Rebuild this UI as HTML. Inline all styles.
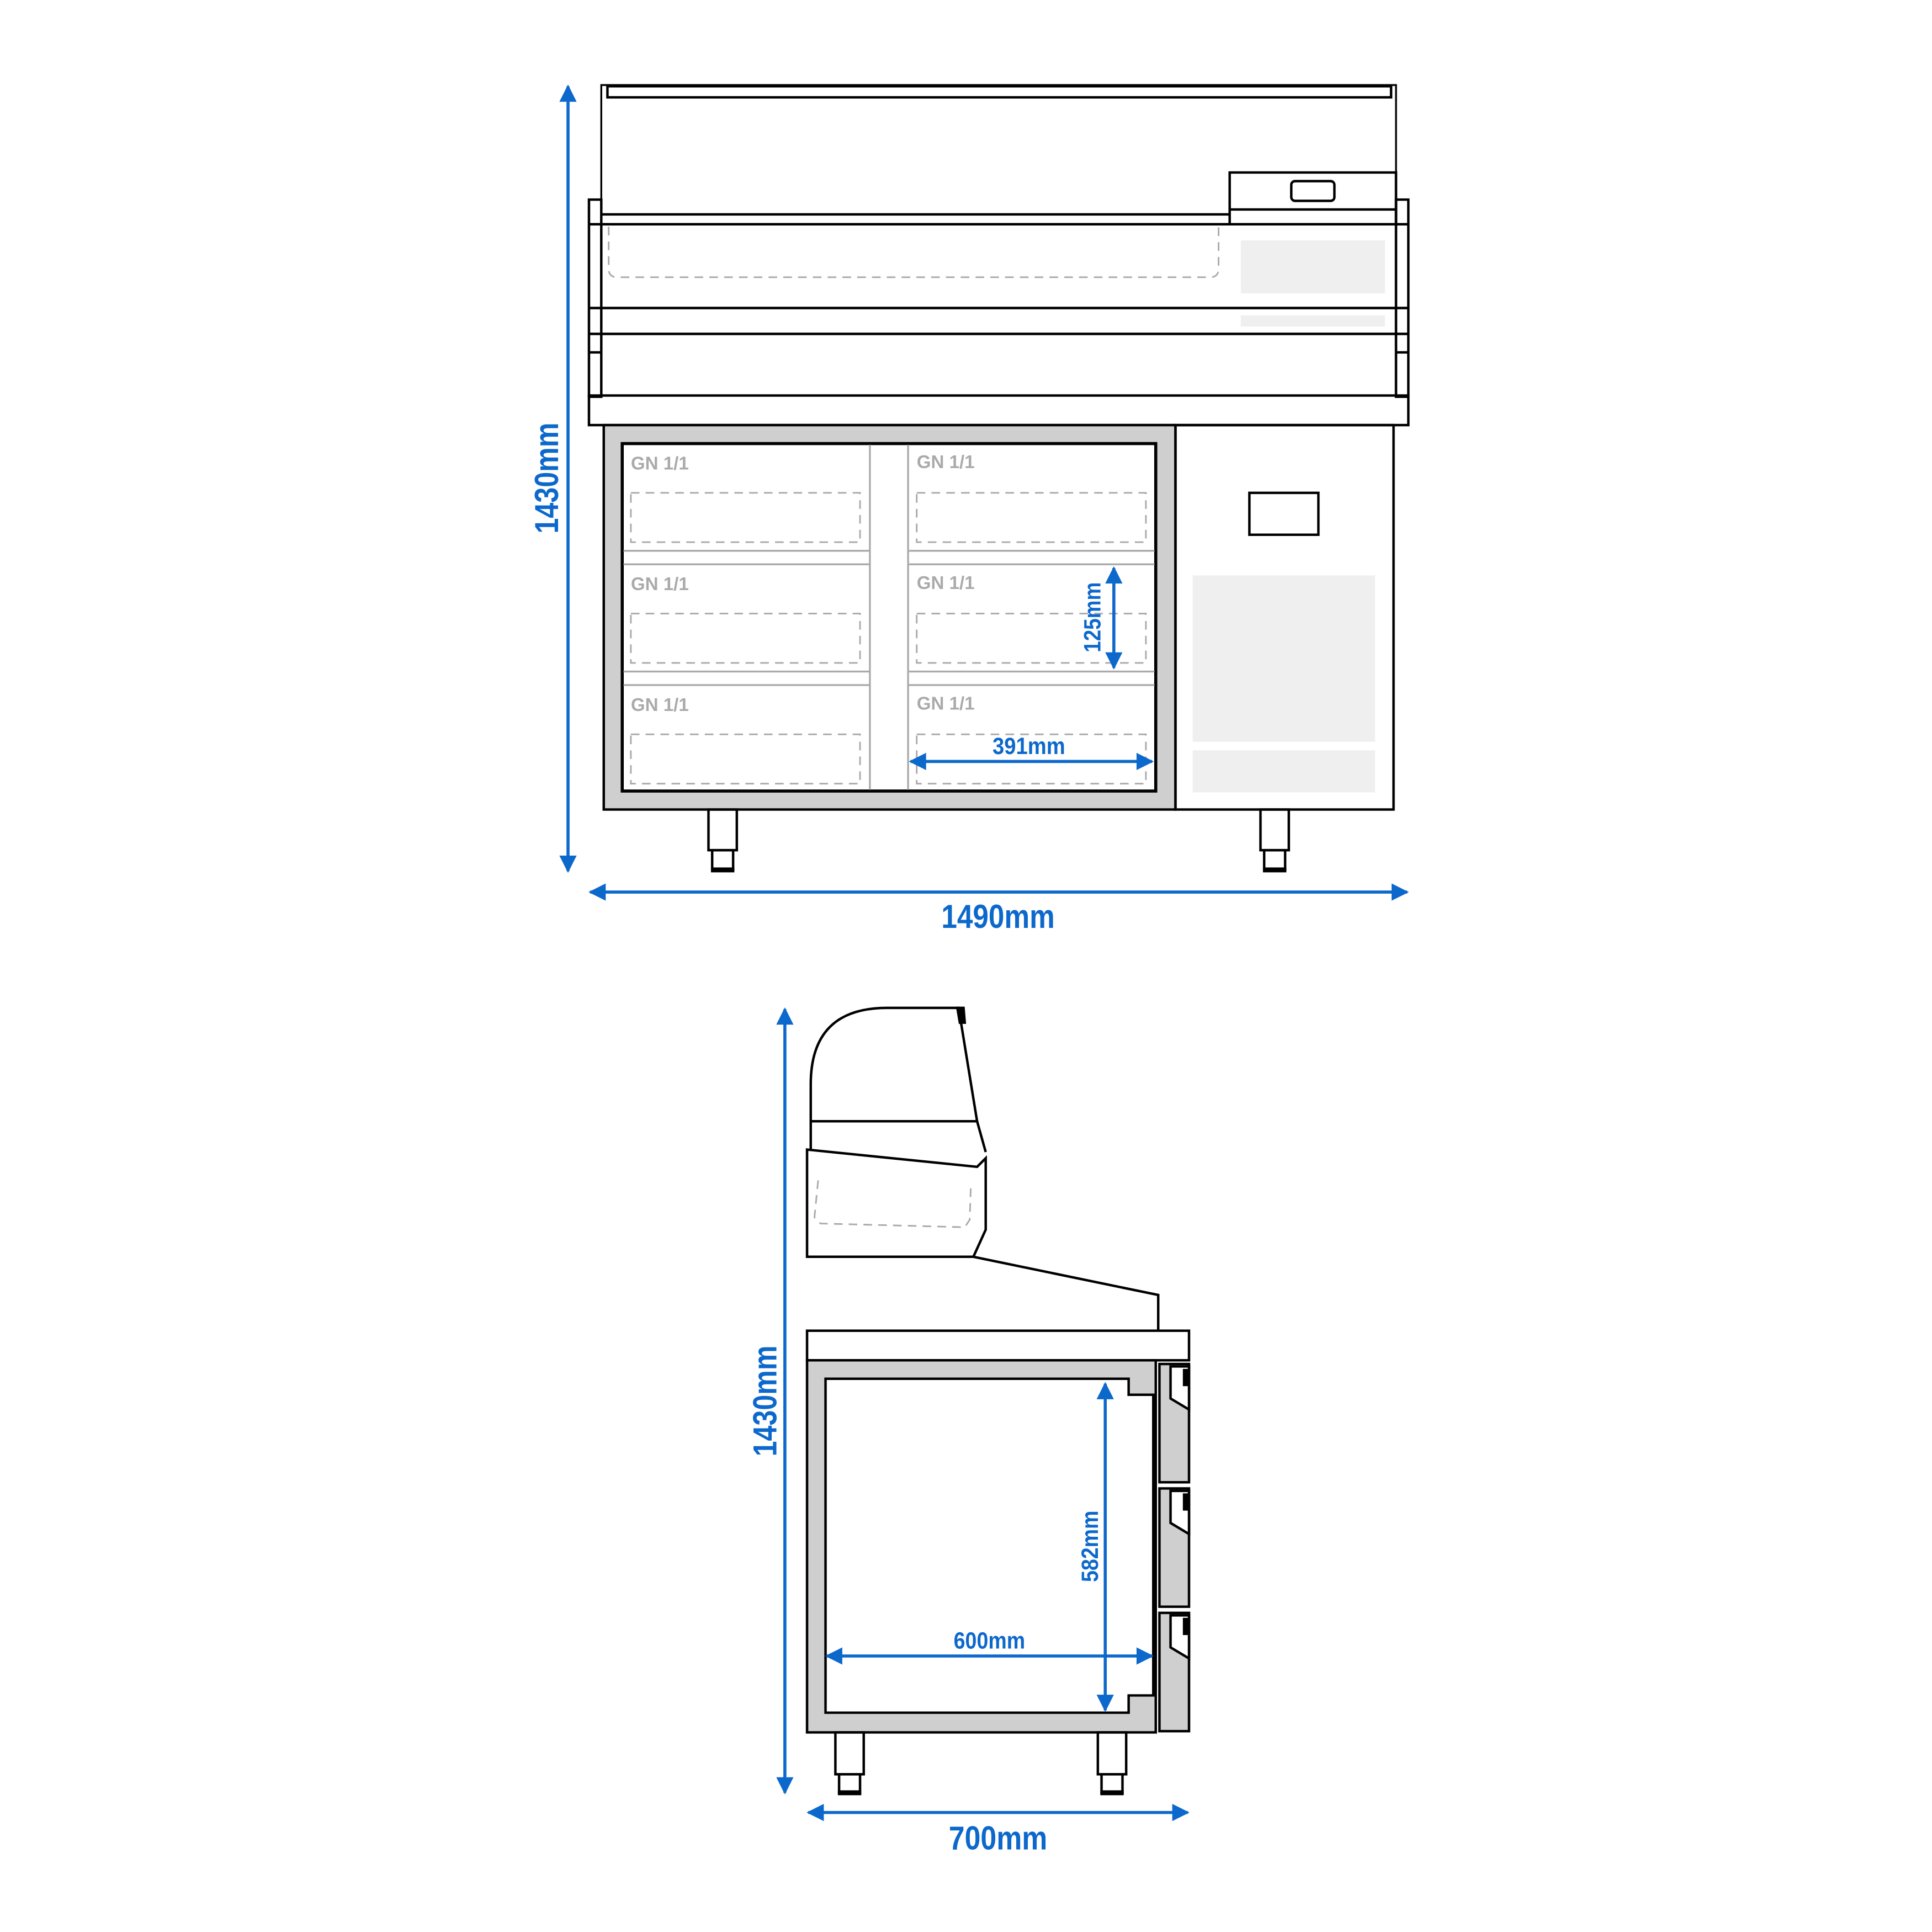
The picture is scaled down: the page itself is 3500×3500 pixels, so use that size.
<!DOCTYPE html>
<html><head><meta charset="utf-8"><style>html,body{margin:0;padding:0;background:#fff}svg{display:block}</style></head>
<body>
<svg width="3500" height="3500" viewBox="0 0 1568 1568" xmlns="http://www.w3.org/2000/svg">
<defs>
<marker id="b" viewBox="0 0 10 10" refX="9" refY="5" markerWidth="20" markerHeight="14" orient="auto-start-reverse" markerUnits="userSpaceOnUse"><path d="M0,0 L10,5 L0,10z" fill="#0d68cc"/></marker>
</defs>
<g fill="none" stroke="#000" stroke-width="2">
<path d="M488,175 V69 H1133 V140" stroke-width="1.5"/>
<rect x="493" y="70" width="636" height="9"/>
<rect x="998" y="140" width="135" height="42"/>
<line x1="998" y1="170" x2="1133" y2="170"/>
<rect x="1048" y="147" width="35" height="16" rx="3"/>
<line x1="488" y1="174" x2="998" y2="174"/>
<line x1="478" y1="182" x2="1143" y2="182"/>
<rect x="478" y="162" width="10" height="160"/>
<rect x="1133" y="162" width="10" height="160"/>
<line x1="478" y1="250" x2="1143" y2="250"/>
<line x1="478" y1="271" x2="1143" y2="271"/>
<line x1="478" y1="286" x2="488" y2="286"/>
<line x1="1133" y1="286" x2="1143" y2="286"/>
<rect x="478" y="321" width="665" height="24"/>
<rect x="490" y="345" width="464" height="312" fill="#cfcfcf"/>
<rect x="954" y="345" width="177" height="312"/>
<rect x="505" y="360" width="433" height="282" fill="#fff" stroke-width="2.5"/>
<rect x="1014" y="400" width="56" height="34"/>
<rect x="575" y="657" width="23" height="33"/>
<rect x="578" y="690" width="17" height="16"/>
<rect x="1023" y="657" width="23" height="33"/>
<rect x="1026" y="690" width="17" height="16"/>
</g>
<g fill="#000"><rect x="577" y="704" width="19" height="4"/><rect x="1025" y="704" width="19" height="4"/>
<rect x="680" y="1453" width="19" height="4"/><rect x="893" y="1453" width="19" height="4"/></g>
<g fill="#efefef">
<rect x="1007" y="195" width="117" height="43"/>
<rect x="1007" y="256" width="117" height="9"/>
<rect x="968" y="467" width="148" height="135"/>
<rect x="968" y="609" width="148" height="34"/>
</g>
<g stroke="#aaa" stroke-width="1.5" fill="none">
<line x1="706" y1="361" x2="706" y2="641"/><line x1="737" y1="361" x2="737" y2="641"/>
<line x1="506" y1="447" x2="706" y2="447"/><line x1="506" y1="458" x2="706" y2="458"/>
<line x1="737" y1="447" x2="937" y2="447"/><line x1="737" y1="458" x2="937" y2="458"/>
<line x1="506" y1="545" x2="706" y2="545"/><line x1="506" y1="556" x2="706" y2="556"/>
<line x1="737" y1="545" x2="937" y2="545"/><line x1="737" y1="556" x2="937" y2="556"/>
</g>
<g stroke="#aaa" stroke-width="1.3" fill="none" stroke-dasharray="7,5">
<path d="M494,184 V218 Q494,225 501,225 H982 Q989,225 989,218 V184"/>
<rect x="512" y="400" width="186" height="40"/><rect x="744" y="400" width="186" height="40"/>
<rect x="512" y="498" width="186" height="40"/><rect x="744" y="498" width="186" height="40"/>
<rect x="512" y="596" width="186" height="40"/><rect x="744" y="596" width="186" height="40"/>
</g>
<g fill="#aaa" font-family="Liberation Sans, sans-serif" font-size="15" font-weight="bold">
<text x="512" y="381" textLength="47" lengthAdjust="spacingAndGlyphs">GN 1/1</text><text x="744" y="380" textLength="47" lengthAdjust="spacingAndGlyphs">GN 1/1</text>
<text x="512" y="479" textLength="47" lengthAdjust="spacingAndGlyphs">GN 1/1</text><text x="744" y="478" textLength="47" lengthAdjust="spacingAndGlyphs">GN 1/1</text>
<text x="512" y="577" textLength="47" lengthAdjust="spacingAndGlyphs">GN 1/1</text><text x="744" y="576" textLength="47" lengthAdjust="spacingAndGlyphs">GN 1/1</text>
</g>
<g fill="none" stroke="#000" stroke-width="2">
<path d="M658,933 V880 Q658,818 720,818 H778 L793,910"/>
<path d="M777,818 H782 L783,830 H779z" fill="#000"/>
<path d="M658,910 H793 L800,935"/>
<path d="M655,1020 V933 L793,947 L800,940 V998 L790,1020z"/>
<path d="M790,1020 L940,1051 V1080"/>
<rect x="655" y="1080" width="310" height="24"/>
<rect x="655" y="1104" width="283" height="302" fill="#cfcfcf"/>
<path d="M670,1119 H916 V1132 H936 V1376 H916 V1390 H670z" fill="#fff"/>
<rect x="941" y="1107" width="24" height="96" fill="#cfcfcf"/>
<rect x="941" y="1208" width="24" height="96" fill="#cfcfcf"/>
<rect x="941" y="1309" width="24" height="96" fill="#cfcfcf"/>
<path d="M950,1109 H965 V1144 L950,1135z" fill="#fff"/>
<path d="M950,1210 H965 V1245 L950,1236z" fill="#fff"/>
<path d="M950,1311 H965 V1346 L950,1337z" fill="#fff"/>
<rect x="678" y="1406" width="23" height="34"/>
<rect x="681" y="1440" width="17" height="15"/>
<rect x="891" y="1406" width="23" height="34"/>
<rect x="894" y="1440" width="17" height="15"/>
</g>
<g fill="#000"><rect x="960" y="1111" width="5" height="14"/><rect x="960" y="1212" width="5" height="14"/><rect x="960" y="1313" width="5" height="14"/></g>
<path d="M664,958 L661,988 L666,993 L783,996 L787,990 L788,960" fill="none" stroke="#aaa" stroke-width="1.3" stroke-dasharray="7,5"/>
<g stroke="#0d68cc" stroke-width="2.5" fill="none">
<line x1="461" y1="70" x2="461" y2="707" marker-start="url(#b)" marker-end="url(#b)"/>
<line x1="479" y1="724" x2="1142" y2="724" marker-start="url(#b)" marker-end="url(#b)"/>
<line x1="904" y1="461" x2="904" y2="542" marker-start="url(#b)" marker-end="url(#b)"/>
<line x1="739" y1="618" x2="935" y2="618" marker-start="url(#b)" marker-end="url(#b)"/>
<line x1="637" y1="819" x2="637" y2="1455" marker-start="url(#b)" marker-end="url(#b)"/>
<line x1="656" y1="1471" x2="964" y2="1471" marker-start="url(#b)" marker-end="url(#b)"/>
<line x1="897" y1="1123" x2="897" y2="1388" marker-start="url(#b)" marker-end="url(#b)"/>
<line x1="671" y1="1344" x2="935" y2="1344" marker-start="url(#b)" marker-end="url(#b)"/>
</g>
<g fill="#0d68cc" font-family="Liberation Sans Narrow, Liberation Sans, sans-serif" font-weight="bold" text-anchor="middle">
<text x="810" y="753" font-size="27" textLength="92" lengthAdjust="spacingAndGlyphs">1490mm</text>
<text x="810" y="1501" font-size="27" textLength="80" lengthAdjust="spacingAndGlyphs">700mm</text>
<text x="835" y="612" font-size="19" textLength="59" lengthAdjust="spacingAndGlyphs">391mm</text>
<text x="803" y="1338" font-size="19" textLength="58" lengthAdjust="spacingAndGlyphs">600mm</text>
<text transform="translate(453,388) rotate(-90)" font-size="27" textLength="90" lengthAdjust="spacingAndGlyphs">1430mm</text>
<text transform="translate(630,1137) rotate(-90)" font-size="27" textLength="90" lengthAdjust="spacingAndGlyphs">1430mm</text>
<text transform="translate(893,501) rotate(-90)" font-size="19" textLength="57" lengthAdjust="spacingAndGlyphs">125mm</text>
<text transform="translate(891,1255) rotate(-90)" font-size="19" textLength="58" lengthAdjust="spacingAndGlyphs">582mm</text>
</g>
</svg>
</body></html>
